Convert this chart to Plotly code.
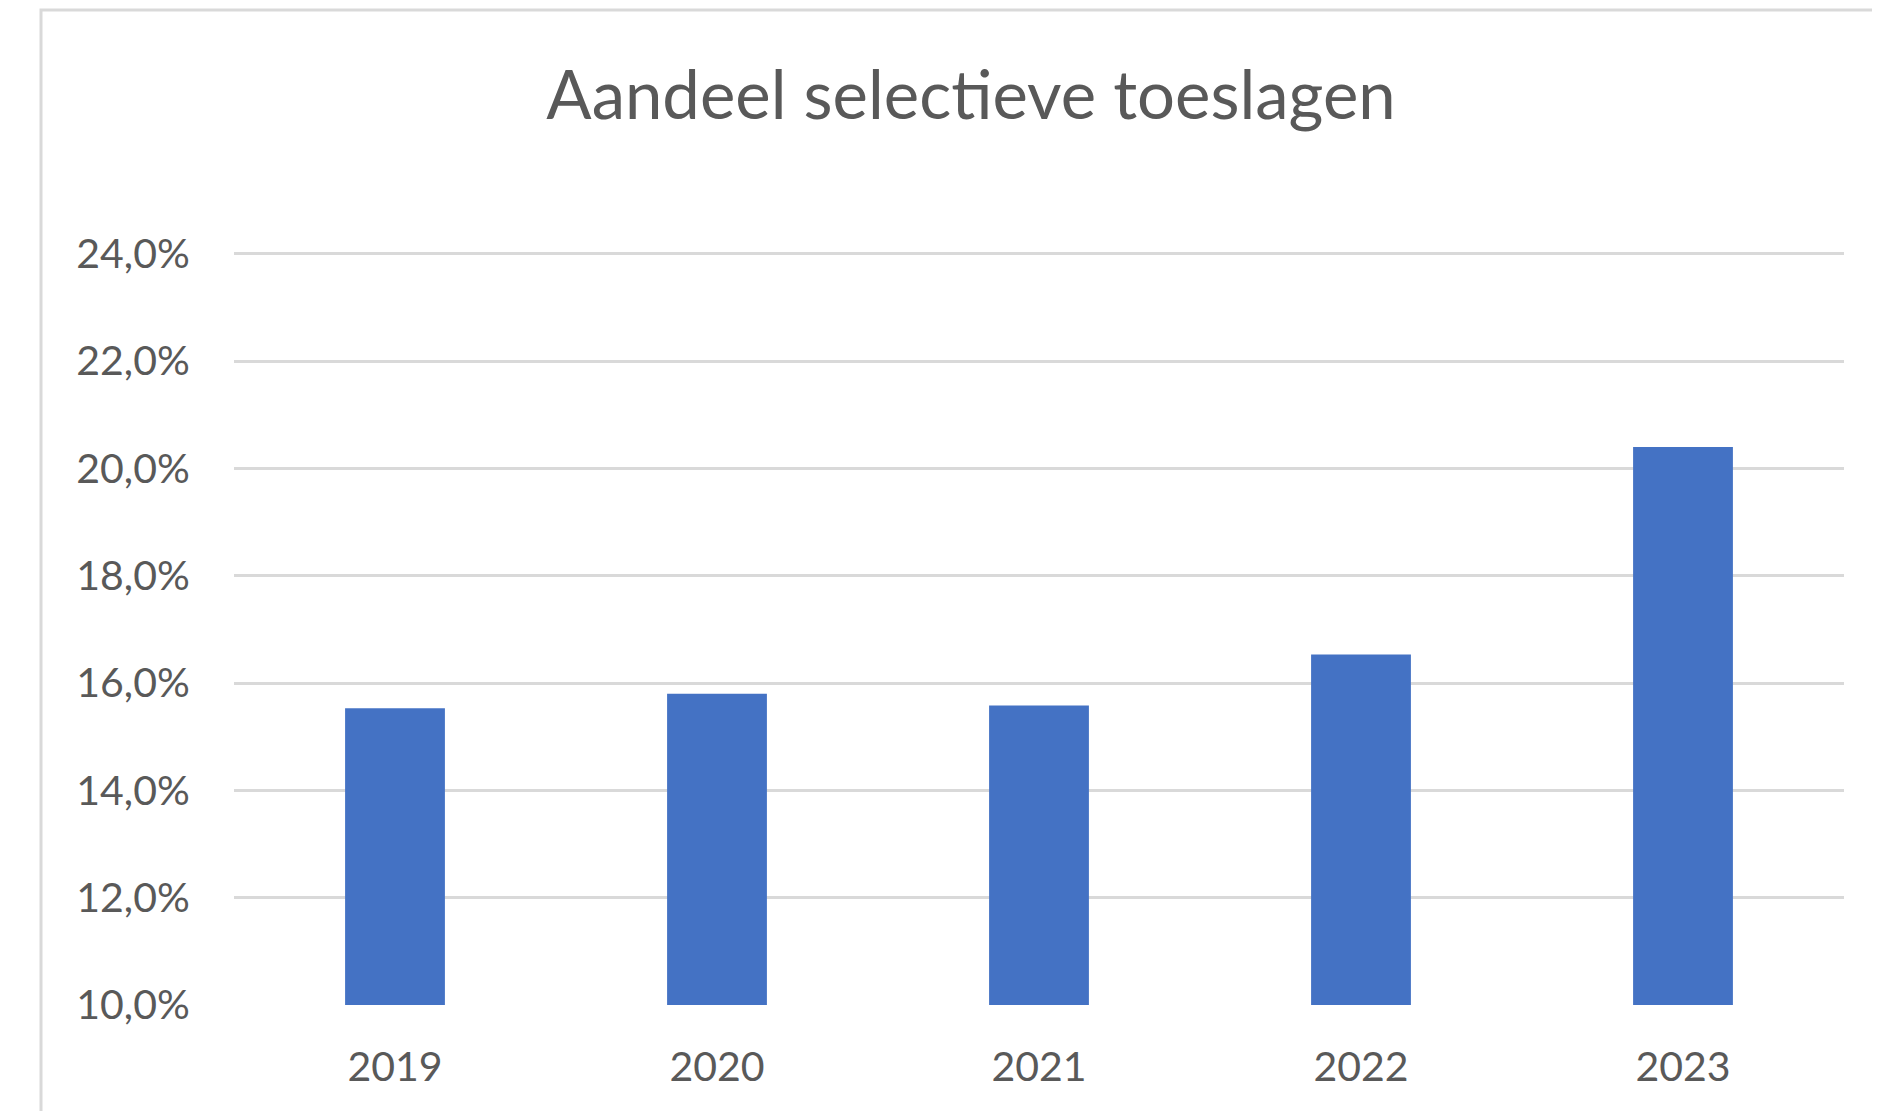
import plotly.graph_objects as go

years = ["2019", "2020", "2021", "2022", "2023"]
share = [15.53, 15.80, 15.58, 16.53, 20.40]
y_ticks = [10, 12, 14, 16, 18, 20, 22, 24]
y_tick_labels = ["10,0%", "12,0%", "14,0%", "16,0%", "18,0%", "20,0%", "22,0%", "24,0%"]

# page has an 8px body margin
OFF = 8
W, H = 1880 - 2 * OFF, 1119 - 2 * OFF
L, R, T, B = 226, 28, 243, 106
pw, ph = W - L - R, H - T - B

def px_x(p):
    return (p - OFF - L) / pw

def px_y(p):
    return (H - B - (p - OFF)) / ph

fig = go.Figure(go.Bar(x=years, y=share, marker=dict(color="#4472C4", line=dict(width=0)),
                       hoverinfo="x+y"))

font_family = "Lato, Open Sans, sans-serif"
fig.update_layout(
    width=W, height=H,
    margin=dict(l=L, r=R, t=T, b=B, pad=0),
    paper_bgcolor="white", plot_bgcolor="white",
    bargap=0.69,
    showlegend=False,
    font=dict(family=font_family, color="#595959"),
    title=dict(text="Aandeel selectieve toeslagen", x=px_x(971), xanchor="center",
               xref="paper", y=1 - (96 - OFF) / H, yanchor="middle", yref="container",
               font=dict(size=67, color="#595959", family=font_family)),
    shapes=[dict(type="rect", xref="paper", yref="paper",
                 x0=px_x(41), x1=px_x(2100), y0=px_y(1400), y1=px_y(10),
                 line=dict(color="#D9D9D9", width=3), fillcolor="rgba(0,0,0,0)", layer="below")],
)
fig.update_yaxes(range=[10, 24.05], tickvals=y_ticks, ticktext=y_tick_labels,
                 showgrid=True, gridcolor="#D9D9D9", gridwidth=3,
                 zeroline=False, showline=False,
                 ticks="outside", ticklen=35, tickcolor="rgba(0,0,0,0)",
                 tickfont=dict(size=41, color="#595959", family=font_family))
fig.update_xaxes(showgrid=False, showline=False, zeroline=False,
                 ticks="outside", ticklen=26, tickcolor="rgba(0,0,0,0)",
                 tickfont=dict(size=41, color="#595959", family=font_family))

fig.write_html("out.html")
